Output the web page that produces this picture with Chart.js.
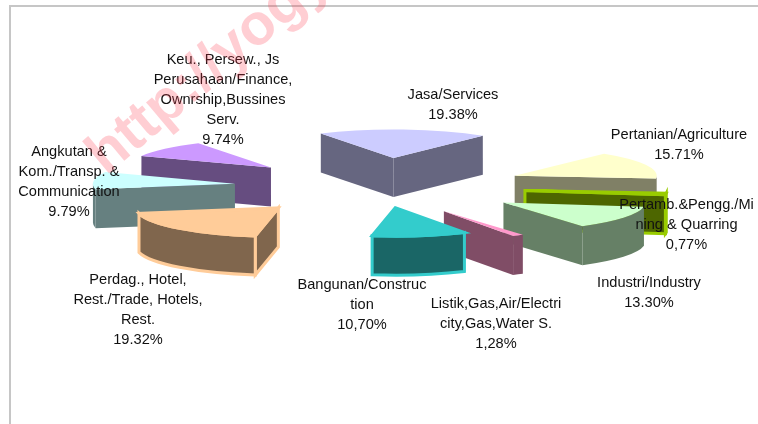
<!DOCTYPE html>
<html>
<head>
<meta charset="utf-8">
<style>
  html, body { margin: 0; padding: 0; background: #fff; }
  canvas { display: block; }
</style>
<script src="https://cdn.jsdelivr.net/npm/chart.js@4"></script>
</head>
<body>
<canvas id="pieChart" width="758" height="424"></canvas>
<script>
// Sektoren, im Uhrzeigersinn ab dem ersten Stück
let categories = ['Pertanian/Agriculture', 'Pertamb.&Pengg./Mining & Quarring', 'Industri/Industry', 'Listik,Gas,Air/Electricity,Gas,Water S.', 'Bangunan/Construction', 'Perdag., Hotel, Rest./Trade, Hotels, Rest.', 'Angkutan & Kom./Transp. & Communication', 'Keu., Persew., Js Perusahaan/Finance, Ownrship,Bussines Serv.', 'Jasa/Services'];
let shares = [15.71, 0.77, 13.30, 1.28, 10.70, 19.32, 9.79, 9.74, 19.38];
let shareLabels = ['15.71%', '0,77%', '13.30%', '1,28%', '10,70%', '19.32%', '9.79%', '9.74%', '19.38%'];
// Zeilenumbrüche wie im Original
let labelLines = [
  ['Pertanian/Agriculture'],
  ['Pertamb.&Pengg./Mi', 'ning & Quarring'],
  ['Industri/Industry'],
  ['Listik,Gas,Air/Electri', 'city,Gas,Water S.'],
  ['Bangunan/Construc', 'tion'],
  ['Perdag., Hotel,', 'Rest./Trade, Hotels,', 'Rest.'],
  ['Angkutan &', 'Kom./Transp. &', 'Communication'],
  ['Keu., Persew., Js', 'Perusahaan/Finance,', 'Ownrship,Bussines', 'Serv.'],
  ['Jasa/Services']
];
let topColors = ['#ffffcc', '#99cc00', '#ccffcc', '#ff99cc', '#33cccc', '#ffcc99', '#ccffff', '#cc99ff', '#ccccff'];
let sideColors = ['#808066', '#4d6600', '#668066', '#804d66', '#1a6666', '#80664d', '#668080', '#664d80', '#666680'];
let borderColors = [null, '#99cc00', null, null, '#33cccc', '#ffcc99', null, null, null];
let explode = [146, 146, 146, 130, 100, 146, 146, 146, 146];
// kleine Korrektur der Explosion pro Stück
let nudge = [[0, 0], [0, 0], [0, 0], [-4, 2], [-2, 1], [0, 0], [0, 0], [0, 0], [3, 0]];
// Mitte der ersten Textzeile
let labelAnchors = [[679, 135], [686.5, 205], [649, 283], [496, 304], [362, 285], [138, 280], [69, 152], [223, 60], [453, 95]];
// hinten zuerst zeichnen
let drawOrder = [8, 7, 6, 0, 1, 2, 3, 4, 5];

let squash = 0.2;
let depth = 39;
let pieRadius = 142;

function wallPath(ctx, x1, y1, x2, y2) {
  ctx.beginPath();
  ctx.moveTo(x1, y1);
  ctx.lineTo(x2, y2);
  ctx.lineTo(x2, y2 + depth);
  ctx.lineTo(x1, y1 + depth);
  ctx.closePath();
}

function paint(ctx, fill, border) {
  ctx.fillStyle = fill;
  ctx.fill();
  if (border) {
    ctx.strokeStyle = border;
    ctx.lineWidth = 3;
    ctx.lineJoin = 'miter';
    ctx.stroke();
  }
}

// Ein Stück: Seitenwände, dann die Oberseite über arc.draw der Bibliothek
function drawSlice(ctx, arc, i) {
  let mid = (arc.startAngle + arc.endAngle) / 2;
  let cx = arc.x + Math.cos(mid) * explode[i] + nudge[i][0];
  let cy = arc.y + Math.sin(mid) * explode[i] * squash + nudge[i][1];
  let r = arc.outerRadius;
  let a0 = arc.startAngle, a1 = arc.endAngle;
  let sx = cx + Math.cos(a0) * r, sy = cy + Math.sin(a0) * r * squash;
  let ex = cx + Math.cos(a1) * r, ey = cy + Math.sin(a1) * r * squash;
  let border = borderColors[i];

  if (-Math.cos(a0) > 0) {
    wallPath(ctx, cx, cy, sx, sy);
    paint(ctx, sideColors[i], border);
  }
  if (Math.cos(a1) > 0) {
    wallPath(ctx, cx, cy, ex, ey);
    paint(ctx, sideColors[i], border);
  }
  let from = Math.max(a0, 0), to = Math.min(a1, Math.PI);
  if (to > from) {
    ctx.beginPath();
    ctx.ellipse(cx, cy, r, r * squash, 0, from, to);
    ctx.ellipse(cx, cy + depth, r, r * squash, 0, to, from, true);
    ctx.closePath();
    paint(ctx, sideColors[i], border);
  }

  ctx.save();
  ctx.translate(cx, cy);
  ctx.scale(1, squash);
  ctx.translate(-arc.x, -arc.y);
  arc.draw(ctx);
  ctx.restore();

  if (border) {
    ctx.beginPath();
    ctx.moveTo(cx, cy);
    ctx.ellipse(cx, cy, r, r * squash, 0, a0, a1);
    ctx.closePath();
    ctx.strokeStyle = border;
    ctx.lineWidth = 3;
    ctx.stroke();
  }
}

let pie3d = {
  id: 'pie3d',
  beforeDatasetsDraw(chart) {
    let ctx = chart.ctx;
    let arcs = chart.getDatasetMeta(0).data;
    drawOrder.forEach(i => drawSlice(ctx, arcs[i], i));
    return false;
  },
  beforeDraw(chart) {
    // grauer Rahmen, rechts und unten abgeschnitten
    let ctx = chart.ctx;
    ctx.save();
    ctx.strokeStyle = '#c6c6c6';
    ctx.lineWidth = 2;
    ctx.strokeRect(10, 6, 800, 500);
    ctx.restore();
  },
  afterDraw(chart) {
    let ctx = chart.ctx;
    ctx.save();
    ctx.font = '14.6px "Liberation Sans", Arial, sans-serif';
    ctx.fillStyle = '#111';
    ctx.textAlign = 'center';
    ctx.textBaseline = 'middle';
    labelLines.forEach((lines, i) => {
      let [x, y] = labelAnchors[i];
      lines.concat(shareLabels[i]).forEach((line, n) => ctx.fillText(line, x, y + n * 20));
    });
    // Wasserzeichen
    ctx.translate(106, 176);
    ctx.rotate(-40 * Math.PI / 180);
    ctx.font = 'bold 58px "Liberation Sans", Arial, sans-serif';
    ctx.fillStyle = 'rgba(255, 60, 80, 0.25)';
    ctx.textAlign = 'left';
    ctx.textBaseline = 'alphabetic';
    ctx.fillText('http://yogyakarta', 0, 0);
    ctx.restore();
  }
};

let ctx = document.getElementById('pieChart').getContext('2d');
new Chart(ctx, {
  type: 'pie',
  data: {
    labels: categories,
    datasets: [{ data: shares, backgroundColor: topColors, borderWidth: 0, radius: pieRadius }]
  },
  options: {
    responsive: false,
    animation: false,
    rotation: 39,
    radius: pieRadius,
    layout: { padding: { left: 2, bottom: 50 } },
    plugins: { legend: { display: false }, tooltip: { enabled: false } }
  },
  plugins: [pie3d]
});
</script>
</body>
</html>
